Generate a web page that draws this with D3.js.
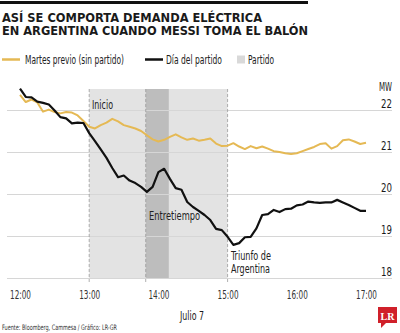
<!DOCTYPE html>
<html>
<head>
<meta charset="utf-8">
<script src="https://cdn.jsdelivr.net/npm/d3@7"></script>
<style>
  body { margin: 0; background: #fff; }
  svg text { font-family: "Liberation Sans Narrow", "DejaVu Sans Condensed", sans-serif; fill: #222; }
</style>
</head>
<body>
<svg id="chart" width="400" height="333"></svg>
<script>
// Minutes after 12:00, one reading every 5 minutes
const minutes = d3.range(0, 305, 5)

// Demand, thousands of MW
const martesPrevio = [
  22.36, 22.19, 22.25, 22.18, 21.96, 22.01, 21.95, 21.92, 21.95, 21.94,
  21.87, 21.74, 21.60, 21.56, 21.64, 21.70, 21.79, 21.73, 21.64, 21.60,
  21.56, 21.50, 21.40, 21.30, 21.25, 21.29, 21.36, 21.42, 21.35, 21.29,
  21.32, 21.27, 21.29, 21.32, 21.20, 21.14, 21.15, 21.21, 21.13, 21.07,
  21.14, 21.09, 21.13, 21.08, 21.02, 21.00, 20.97, 20.95, 20.97, 21.02,
  21.07, 21.12, 21.19, 21.21, 21.08, 21.14, 21.28, 21.30, 21.25, 21.19,
  21.22
]
const diaPartido = [
  22.51, 22.31, 22.30, 22.20, 22.17, 22.13, 21.99, 21.83, 21.80, 21.68,
  21.70, 21.69, 21.45, 21.26, 21.06, 20.86, 20.62, 20.40, 20.44, 20.32,
  20.26, 20.17, 20.05, 20.17, 20.52, 20.60, 20.36, 20.14, 20.10, 19.81,
  19.69, 19.60, 19.50, 19.38, 19.17, 19.14, 18.98, 18.79, 18.83, 18.97,
  18.98, 19.18, 19.50, 19.52, 19.62, 19.57, 19.64, 19.65, 19.73, 19.75,
  19.82, 19.80, 19.79, 19.80, 19.80, 19.86, 19.80, 19.74, 19.67, 19.60,
  19.60
]

const hourTicks = ['12:00', '13:00', '14:00', '15:00', '16:00', '17:00']
const mwTicks = [18, 19, 20, 21, 22]

// Match window and half time, minutes after 12:00
const partido = [60, 180]
const entretiempo = [109, 129]

const svg = d3.select('#chart')
const day = (m) => new Date(2021, 6, 7, 12, m)
const parseHour = d3.timeParse('%H:%M')
const hourDate = (s) => { const t = parseHour(s); return day(t.getHours() * 60 + t.getMinutes() - 720) }

// squeeze a text to the width it has in the original (condensed type)
const fit = (sel, w) => sel.attr('textLength', w).attr('lengthAdjust', 'spacingAndGlyphs')

const x = d3.scaleTime().domain([day(0), day(300)]).range([20, 366])
const y = d3.scaleLinear().domain([18, 22]).range([278, 110])
const plotTop = y(22.5)

// Top rule and title
svg.append('rect').attr('x', 0).attr('y', 1).attr('width', 308).attr('height', 3).attr('fill', '#111')
const title = svg.append('g').style('font-family', '"Open Sans", sans-serif')
title.append('text').attr('x', 2).attr('y', 22).call(fit, 260)
  .style('font-size', '12.2px').style('font-weight', 600).style('fill', '#1a1a1a')
  .text('ASÍ SE COMPORTA DEMANDA ELÉCTRICA')
title.append('text').attr('x', 2).attr('y', 34.5).call(fit, 306)
  .style('font-size', '12.2px').style('font-weight', 600).style('fill', '#1a1a1a')
  .text('EN ARGENTINA CUANDO MESSI TOMA EL BALÓN')

// Legend
const legend = svg.append('g').style('font-size', '11.5px')
legend.append('line').attr('x1', 2).attr('x2', 20).attr('y1', 59.5).attr('y2', 59.5).attr('stroke', '#e5b954').attr('stroke-width', 2.5)
legend.append('text').attr('x', 25).attr('y', 63.5).call(fit, 99).text('Martes previo (sin partido)')
legend.append('line').attr('x1', 145).attr('x2', 163).attr('y1', 59.5).attr('y2', 59.5).attr('stroke', '#111').attr('stroke-width', 2.5)
legend.append('text').attr('x', 166).attr('y', 63.5).call(fit, 56).text('Día del partido')
legend.append('rect').attr('x', 237).attr('y', 55.5).attr('width', 8).attr('height', 8).attr('fill', '#d9d9d9')
legend.append('text').attr('x', 248).attr('y', 63.5).call(fit, 26).text('Partido')

// Shaded match areas
svg.append('rect')
  .attr('x', x(day(partido[0]))).attr('y', plotTop)
  .attr('width', x(day(partido[1])) - x(day(partido[0]))).attr('height', y(18) - plotTop)
  .attr('fill', '#e3e3e3')
svg.append('rect')
  .attr('x', x(day(entretiempo[0]))).attr('y', plotTop)
  .attr('width', x(day(entretiempo[1])) - x(day(entretiempo[0]))).attr('height', y(18) - plotTop)
  .attr('fill', '#bdbdbd')

// Gridlines
svg.append('g')
  .attr('transform', 'translate(392,0)')
  .call(d3.axisLeft(y).tickValues(mwTicks).tickSize(385).tickFormat(''))
  .call(g => g.select('.domain').remove())
  .call(g => g.selectAll('line').attr('stroke', '#d6d6d6').attr('stroke-width', 1))

// Dashed markers
svg.append('g').selectAll('line')
  .data([partido[0], entretiempo[0], partido[1]])
  .join('line')
  .attr('x1', d => x(day(d))).attr('x2', d => x(day(d)))
  .attr('y1', plotTop).attr('y2', 282)
  .attr('stroke', '#9a9a9a').attr('stroke-dasharray', '3,2').attr('stroke-width', 0.8)

// Lines
const line = (values) => d3.line()
  .x((d, i) => x(day(minutes[i])))
  .y(d => y(d))(values)

svg.append('path').attr('d', line(martesPrevio))
  .attr('fill', 'none').attr('stroke', '#e5b954').attr('stroke-width', 2).attr('stroke-linejoin', 'round')
svg.append('path').attr('d', line(diaPartido))
  .attr('fill', 'none').attr('stroke', '#111').attr('stroke-width', 2.2).attr('stroke-linejoin', 'round')

// Y labels
svg.append('g')
  .attr('transform', 'translate(392,0)')
  .call(d3.axisLeft(y).tickValues(mwTicks).tickSize(0).tickPadding(0).tickFormat(d3.format('d')))
  .call(g => g.select('.domain').remove())
  .call(g => g.selectAll('text').attr('dy', '-3').call(fit, 11).style('font-size', '13px').style('fill', '#1a1a1a'))
svg.append('text').attr('x', 392).attr('y', 91).attr('text-anchor', 'end').call(fit, 13)
  .style('font-size', '12px').style('fill', '#1a1a1a').text('MW')

// X labels
svg.append('g')
  .attr('transform', 'translate(0,290)')
  .call(d3.axisBottom(x).tickValues(hourTicks.map(hourDate)).tickSize(0).tickPadding(0).tickFormat(d3.timeFormat('%H:%M')))
  .call(g => g.select('.domain').remove())
  .call(g => g.selectAll('text').call(fit, 21).style('font-size', '12px').style('fill', '#333'))
svg.append('text').attr('x', 180).attr('y', 320).call(fit, 24)
  .style('font-size', '12px').style('fill', '#1a1a1a').text('Julio 7')

// Annotations
const notes = svg.append('g').style('font-size', '12px').style('fill', '#1a1a1a')
notes.append('text').attr('x', 92).attr('y', 109).call(fit, 21).text('Inicio')
notes.append('text').attr('x', 149).attr('y', 219.5).call(fit, 51).text('Entretiempo')
notes.append('text').attr('x', 231).attr('y', 260).call(fit, 40).text('Triunfo de')
notes.append('text').attr('x', 231).attr('y', 273).call(fit, 39).text('Argentina')

// Source
svg.append('text').attr('x', 2).attr('y', 330).call(fit, 115)
  .style('font-size', '7.5px').style('fill', '#333')
  .text('Fuente: Bloomberg, Cammesa / Gráfico: LR-GR')

// LR logo
const logo = svg.append('g')
logo.append('rect').attr('x', 378).attr('y', 307).attr('width', 19).attr('height', 16).attr('fill', '#d0202a')
logo.append('path').attr('d', 'M381,323 L381,328 L386,323 Z').attr('fill', '#d0202a')
logo.append('text').attr('x', 387.5).attr('y', 319.5).attr('text-anchor', 'middle')
  .style('font-family', '"Liberation Serif", serif').style('font-weight', 700).style('font-size', '10px').style('fill', '#fff')
  .text('LR')
</script>
</body>
</html>
